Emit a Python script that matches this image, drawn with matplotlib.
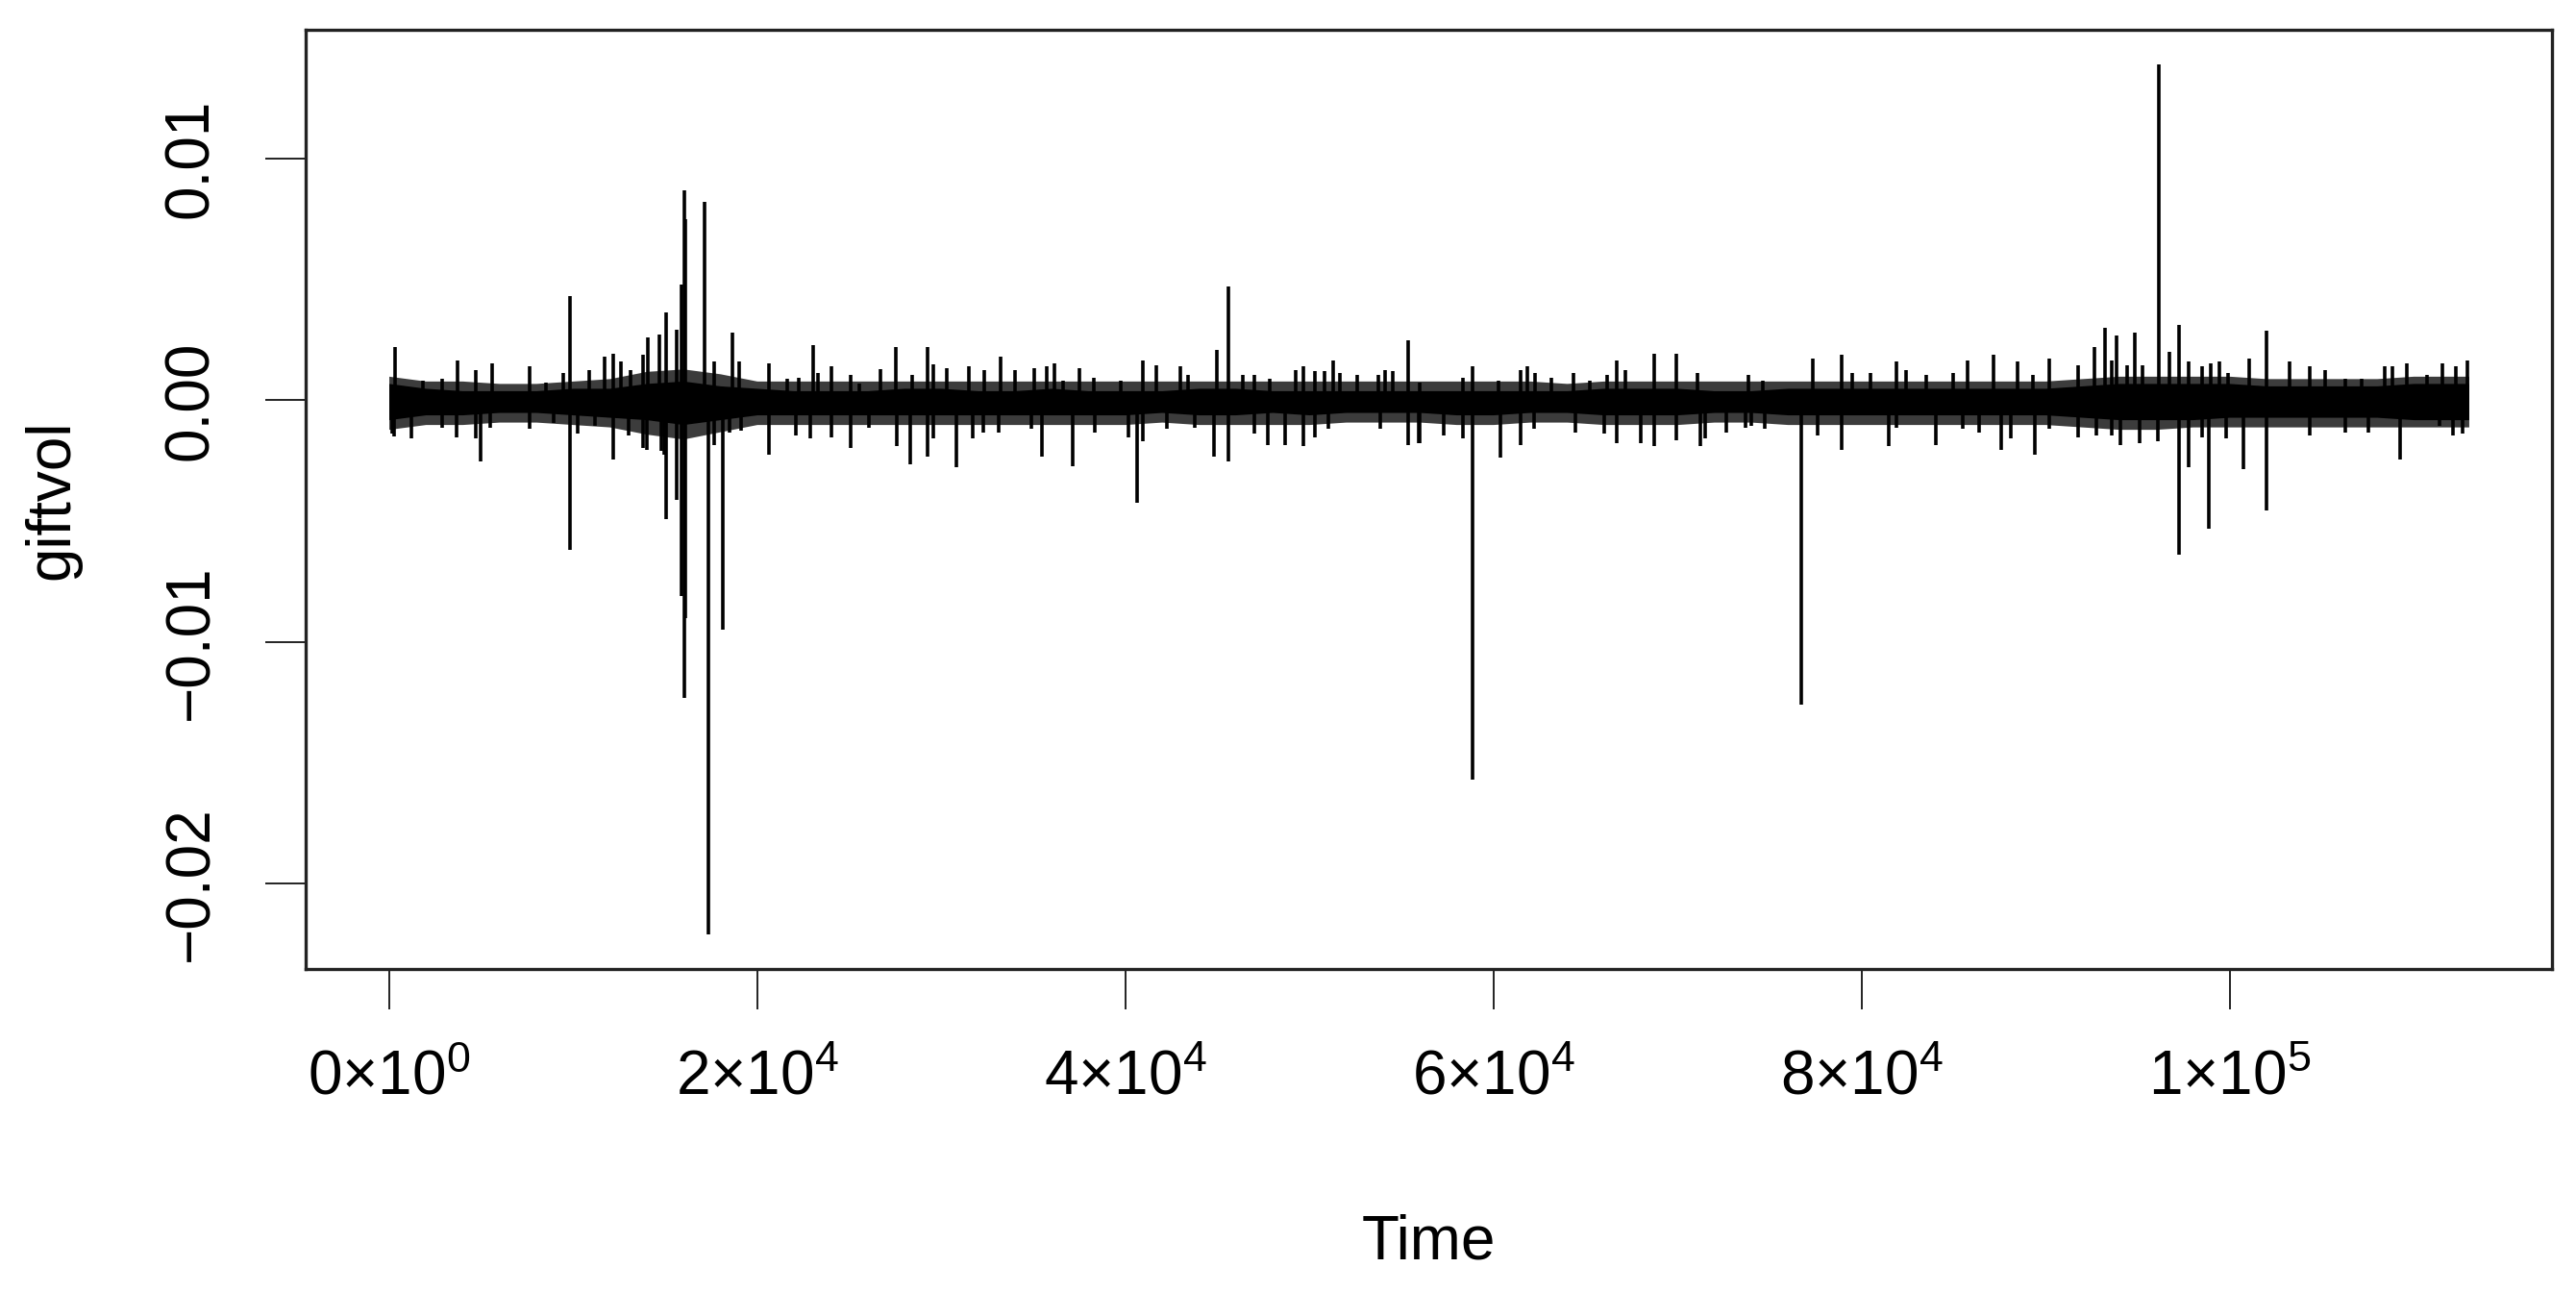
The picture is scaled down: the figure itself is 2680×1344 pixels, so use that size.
import matplotlib
matplotlib.use("Agg")
import matplotlib.pyplot as plt

plt.rcParams["font.family"] = ["Liberation Sans", "DejaVu Sans"]
plt.rcParams["mathtext.fontset"] = "custom"
plt.rcParams["mathtext.rm"] = "Liberation Sans"
plt.rcParams["mathtext.default"] = "regular"

# ---- data (values in units of 1e-4) ----
UNIT = 1e-4
env_t = [0, 2000, 4000, 6000, 8000, 10000, 12000, 14000, 16000, 18000,
         20000, 22000, 24000, 26000, 28000, 30000, 32000, 34000, 36000, 38000,
         40000, 42000, 44000, 46000, 48000, 50000, 52000, 54000, 56000, 58000,
         60000, 62000, 64000, 66000, 68000, 70000, 72000, 74000, 76000, 78000,
         80000, 82000, 84000, 86000, 88000, 90000, 92000, 94000, 96000, 98000,
         100000, 102000, 104000, 106000, 108000, 110000, 112000, 113000]
core_hi = [7, 5, 4, 4, 4, 5, 5, 7, 8, 6,
           5, 4, 4, 4, 5, 5, 4, 4, 5, 4,
           4, 4, 5, 5, 4, 4, 4, 4, 4, 4,
           4, 4, 4, 5, 5, 5, 4, 4, 5, 5,
           5, 5, 5, 5, 5, 5, 6, 7, 7, 7,
           7, 6, 6, 6, 6, 7, 7, 7]
core_lo = [-8, -6, -6, -5, -5, -6, -7, -8, -10, -8,
           -6, -6, -6, -6, -6, -6, -6, -6, -6, -6,
           -6, -5, -6, -6, -5, -6, -5, -5, -5, -6,
           -6, -5, -5, -6, -6, -6, -5, -5, -6, -6,
           -6, -6, -6, -6, -6, -6, -7, -8, -8, -8,
           -7, -7, -7, -7, -7, -8, -8, -8]
fringe_hi = [10, 8, 8, 7, 7, 8, 9, 12, 13, 11,
             8, 8, 8, 8, 8, 8, 8, 8, 8, 8,
             8, 8, 8, 8, 8, 8, 8, 8, 8, 8,
             8, 8, 7, 8, 8, 8, 8, 8, 8, 8,
             8, 8, 8, 8, 8, 8, 9, 10, 10, 10,
             10, 9, 9, 9, 9, 10, 10, 10]
fringe_lo = [-12, -10, -10, -9, -9, -10, -11, -14, -16, -13,
             -10, -10, -10, -10, -10, -10, -10, -10, -10, -10,
             -10, -9, -10, -10, -10, -10, -9, -9, -9, -10,
             -10, -9, -9, -10, -10, -10, -9, -9, -10, -10,
             -10, -10, -10, -10, -10, -10, -11, -12, -12, -11,
             -11, -11, -11, -11, -11, -11, -11, -11]

# individual bars (time, value) that stick out of the band
bar_t = [174, 348, 300, 1218, 1827, 2871, 2871, 3654, 3741, 4698, 4698, 4959,
         5481, 5620, 7656, 7656, 8526, 8961, 9483, 9820, 9820, 10266, 10875,
         11223, 11745, 12180, 12180, 12615, 13050, 13137, 13833, 13833, 14007,
         14094, 14703, 14790, 14964, 15050, 15050, 15660, 15660, 15900, 15900,
         16030, 16030, 16100, 16100, 17170, 17370, 17660, 17660, 18120, 18531,
         18640, 19050, 19140,
         20654, 20654, 21660, 22098, 22270, 22881, 23060, 23316, 24064, 24064,
         25090, 25090, 25578, 26100, 26710, 27560, 27579, 28310, 28450, 29284,
         29284, 29580, 29580, 30330, 30850, 31494, 31720, 32277, 32370, 33147,
         33234, 34017, 34887, 35060, 35496, 35757, 36140, 36627, 37150,
         37497, 38280, 38367, 39759, 40194, 40660, 40977, 40977, 41673, 42282,
         42978, 43413, 43761, 44805, 44979, 45620, 45620, 46371, 47015, 47032,
         47728, 47850, 48668, 49242, 49677, 49677, 50286, 50286, 50860, 51069,
         51278, 51678, 52635, 53766, 53853, 54114, 54549, 55367, 55367, 55941,
         56028, 56028, 57333, 58377, 58377, 58880, 58899, 60291, 60378, 61509,
         61509, 61857, 62205, 62292, 63162, 64380, 64467, 65250, 66033, 66207,
         66729, 66729, 67164, 68034, 68730, 68730, 69948, 69948, 71079, 71253,
         71514, 72645, 73689, 73863, 74646, 74733,
         74037, 76730, 77343, 77604, 78909, 78909, 79518, 80475, 81467, 81902,
         81919, 82441, 83520, 84042, 84999, 85521, 85747, 86391, 87174, 87609,
         88131, 88479, 89314, 89401, 90219, 90219, 91785, 91785, 92655, 92742,
         93212, 93612, 93612, 93859, 94071, 94425, 94868, 95133, 95275, 96106,
         96150, 96726, 97257, 97257, 97788, 97788, 98496, 98496, 98992, 98900,
         99470, 99824, 99912, 100761, 101063, 101999, 101999, 103240, 104337,
         104337, 105222, 106284, 106284, 107169, 107523, 108408, 108851, 109258,
         109612, 110709, 111417, 111559, 112125, 112302, 112656, 112950]
bar_v = [-13.8, 22.0, -15, -15.8, 8.1, 8.8, -11.2, -15.2, 16.7, 12.7, -15.8, -25.1,
         -11.2, 15.4, 14.1, -11.8, 7.4, -9.2, 11.4, 43, -62, -13.8, 12.7,
         -10.5, 18.0, 19.4, -24.4, 16.1, -14.5, 12.7, 18.7, -19.8, -20.5,
         26.0, 27.3, -21, -22.5, 36.6, -49, 29.3, -41, 48, -81,
         87, -123, 75, -90, 82, -221, 16.1, -18.5, -95, -13.2,
         28, 16, -12.5,
         15.4, -22.5, 8.8, -14.5, 9.4, -15.8, 23, 11.4, 14, -15.2,
         10.7, -19.8, 6.8, -11.2, 13, 22, -19.1, -26.4, 10.7, 22,
         -23.1, 15, -15.8, 13.4, -27.8, 14.1, -15.8, -13.2, 12.7, -13.2,
         18.0, 12.7, -11.8, 13.4, -23.1, 14.1, 15.4, 8.1, -27.1,
         13.4, 9.4, -13.2, 8.1, -15.2, -42.4, 16.7, -17.1, 14.7, -11.8,
         14.1, 10.7, -11.2, -23.1, 20.7, 47, -25.1, 10.7, -13.8, 10.7,
         -18.5, 8.8, -18.5, 12.7, 14.1, -19.1, 12.1, -15.2, 12.1, -11.8,
         16.7, 11.4, 10.7, 10.7, -11.8, 12.7, 12.1, 24.7, -18.5, -17.8,
         7.4, -17.8, -14.5, 9.4, -15.8, -157, 14.1, 8.1, -23.8, 12.7,
         -18.5, 14.1, -11.8, 11.4, 9.4, 11.4, -13.2, 8.1, -13.8, 10.7,
         16.7, -17.8, 12.7, -17.8, 19.4, -19.1, 19.4, -16.5, 11.4, -19.1,
         -15.8, -13.2, -11.2, 10.7, 8.1, -11.8,
         -10.5, -126, 17.4, -14.5, 18.7, -20.5, 11.4, 11.4, -19.1, 16.1,
         -11.2, 12.7, 10.7, -18.5, 11.4, -11.8, 16.7, -13.2, 18.7, -20.5,
         -15.8, 16.1, 10.7, -22.5, 17.4, -11.8, 14.7, -15.2, 22.0, -14.5,
         30.0, 16.7, -14.5, 26.7, -18.5, 14.7, 28.0, -17.8, 14.7, -17.1,
         139, 20.0, 31.3, -64, 16.1, -27.8, 14.1, -15.2, 15.4, -53,
         16.1, -15.8, 11.4, -28.4, 17.4, 28.7, -45.7, 16.1, 14.1,
         -14.5, 12.7, 8.8, -13.2, 8.8, -13.2, 14.1, 14.1, -24.4,
         15.4, 10.7, -10.5, 15.4, -14.5, 14.1, -13.8, 16.7]

x_ticks = [0, 20000, 40000, 60000, 80000, 100000]
x_tick_labels = [r"$0{\times}10^{0}$", r"$2{\times}10^{4}$", r"$4{\times}10^{4}$",
                 r"$6{\times}10^{4}$", r"$8{\times}10^{4}$", r"$1{\times}10^{5}$"]
y_ticks = [-0.02, -0.01, 0.00, 0.01]
y_tick_labels = ["\u22120.02", "\u22120.01", "0.00", "0.01"]
x_label = "Time"
y_label = "giftvol"

# ---- figure ----
fig = plt.figure(figsize=(26.8, 13.44), dpi=100)
ax = fig.add_axes([318 / 2680, 1 - 1008 / 1344, (2655 - 318) / 2680, (1008 - 31) / 1344])

sc = lambda arr: [v * UNIT for v in arr]
ax.fill_between(env_t, sc(fringe_lo), sc(fringe_hi), color="#3c3c3c", lw=0)
ax.fill_between(env_t, sc(core_lo), sc(core_hi), color="black", lw=0)
ax.vlines(bar_t, 0, sc(bar_v), color="black", lw=2.6)

# R-style axis ranges (4% extension)
all_y = sc(bar_v) + sc(fringe_lo) + sc(fringe_hi)
xmin, xmax = min(env_t), max(env_t)
ymin, ymax = min(all_y), max(all_y)
ax.set_xlim(xmin - 0.04 * (xmax - xmin), xmax + 0.04 * (xmax - xmin))
ax.set_ylim(ymin - 0.04 * (ymax - ymin), ymax + 0.04 * (ymax - ymin))

for s in ax.spines.values():
    s.set_linewidth(2.4)
    s.set_color("#222222")

fs = 46
ax.set_xticks(x_ticks)
ax.set_xticklabels(x_tick_labels, fontsize=fs)
ax.set_yticks(y_ticks)
ax.set_yticklabels(y_tick_labels, fontsize=fs, rotation=90, va="center")
ax.tick_params(axis="both", direction="out", length=30, width=1.4, color="#222222")
ax.tick_params(axis="x", pad=30)
ax.tick_params(axis="y", pad=34)

ax.set_xlabel(x_label, fontsize=fs)
ax.set_ylabel(y_label, fontsize=fs)
ax.xaxis.set_label_coords(0.5, (1008 - 1262) / (1008 - 31))
ax.yaxis.set_label_coords((84 - 318) / (2655 - 318), 0.5)

fig.savefig("out.png", dpi=100, facecolor="white")
